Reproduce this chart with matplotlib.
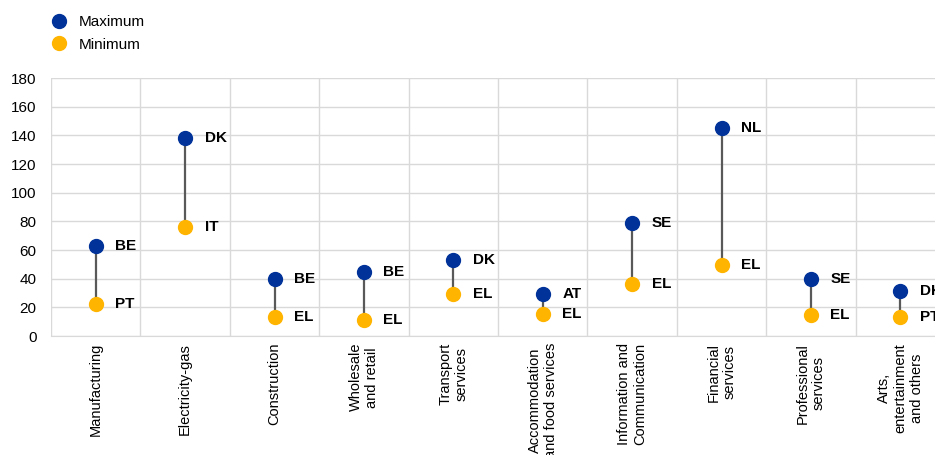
import matplotlib.pyplot as plt
from matplotlib.lines import Line2D

plt.rcParams['font.family'] = ['Liberation Sans', 'DejaVu Sans']

#categories and values
sectors = ['Manufacturing', 'Electricity-gas', 'Construction', 'Wholesale\nand retail',
           'Transport\nservices', 'Accommodation\nand food services',
           'Information and\nCommunication', 'Financial\nservices',
           'Professional\nservices', 'Arts,\nentertainment\nand others']
max_vals = [63, 138, 40, 45, 53, 29.5, 79, 145, 40, 31.5]
min_vals = [22.5, 76, 13.5, 11, 29.5, 15.5, 36, 49.5, 14.5, 13.5]
max_cty = ['BE', 'DK', 'BE', 'BE', 'DK', 'AT', 'SE', 'NL', 'SE', 'DK']
min_cty = ['PT', 'IT', 'EL', 'EL', 'EL', 'EL', 'EL', 'EL', 'EL', 'PT']

blue = '#003299'
yellow = '#FFB400'
grid_c = '#d9d9d9'

fig = plt.figure(figsize=(9.35, 4.55), dpi=100)
ax = fig.add_axes([51/935, 1-336/455, 894/935, 258/455])

x = range(len(sectors))
ax.vlines(x, min_vals, max_vals, color='#595959', lw=1.6, zorder=2)
ax.plot(x, max_vals, 'o', color=blue, ms=10, zorder=3)
ax.plot(x, min_vals, 'o', color=yellow, ms=10, zorder=3)

for i in x:
    ax.annotate(max_cty[i], (i, max_vals[i]), xytext=(14, 0), textcoords='offset points',
                va='center', ha='left', fontsize=11, fontweight='bold')
    ax.annotate(min_cty[i], (i, min_vals[i]), xytext=(14, 0), textcoords='offset points',
                va='center', ha='left', fontsize=11, fontweight='bold')

ax.set_xlim(-0.5, len(sectors)-0.5)
ax.set_ylim(0, 180)
ax.set_yticks(range(0, 181, 20))
ax.set_xticks(list(x))
ax.set_xticklabels(sectors, rotation=90, va='top', ha='center', multialignment='center')
ax.set_xticks([i+0.5 for i in range(-1, len(sectors))], minor=True)

#grid
ax.grid(axis='y', color=grid_c, lw=1)
ax.grid(axis='x', which='minor', color=grid_c, lw=1)
ax.set_axisbelow(True)
for s in ['top', 'right', 'left']:
    ax.spines[s].set_visible(False)
ax.spines['bottom'].set_color(grid_c)
ax.tick_params(axis='both', which='both', length=0)
ax.tick_params(axis='y', pad=10.5, labelsize=11)
ax.tick_params(axis='x', pad=5, labelsize=10.5)

#legend
handles = [Line2D([], [], marker='o', ls='', color=blue, ms=10),
           Line2D([], [], marker='o', ls='', color=yellow, ms=10)]
fig.legend(handles, ['Maximum', 'Minimum'], loc='upper left', bbox_to_anchor=(0.035, 0.99),
           frameon=False, fontsize=11, handletextpad=0.3, labelspacing=0.55,
           borderaxespad=0.3)

plt.savefig('out.png', dpi=100)
